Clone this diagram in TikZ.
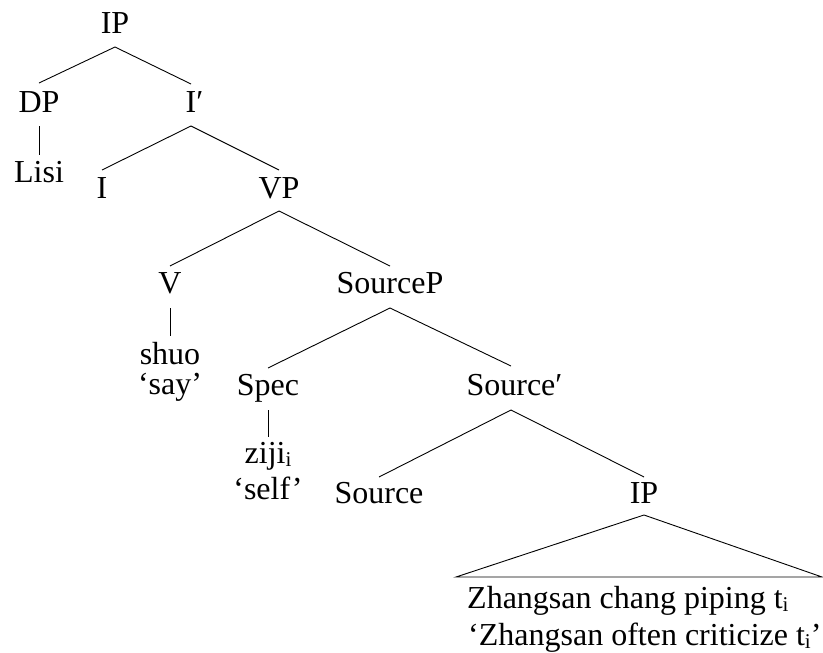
\documentclass[tikz,border=0pt]{standalone}
\usepackage{fontspec}
\setmainfont{Liberation Serif}
\newcommand{\lowi}{\raisebox{-0.12em}{\fontsize{21}{22}\selectfont i}}
\begin{document}
\begin{tikzpicture}[x=1pt,y=-1pt,
  lbl/.style={anchor=base,inner sep=0pt,font=\fontsize{32}{35}\selectfont},
  lblw/.style={anchor=base west,inner sep=0pt,font=\fontsize{32}{35}\selectfont},
  edge/.style={line width=0.9pt}]
\useasboundingbox (0,0) rectangle (823,653);
\node[lbl] (ip) at (115,33) {IP};
\node[lbl] (dp) at (39,112) {DP};
\node[lbl] (ibar) at (191,112) {I\rlap{′}};
\node[lbl] (lisi) at (39,182) {Lisi};
\node[lbl] (i) at (102,198) {I};
\node[lbl] (vp) at (279,198) {VP};
\node[lbl] (v) at (170,293) {V};
\node[lbl] (sp) at (390,293) {SourceP};
\node[lbl] (shuo) at (170,364) {shuo};
\node[lbl] (say) at (170,394) {‘say’};
\node[lbl] (spec) at (268,395) {Spec};
\node[lbl] (sbar) at (511,395) {Source\rlap{′}};
\node[lbl] (ziji) at (268,463) {ziji\lowi};
\node[lbl] (self) at (268,499) {‘self’};
\node[lbl] (src) at (379,503) {Source};
\node[lbl] (ip2) at (644,503) {IP};
\node[lblw] (zh1) at (467,608) {Zhangsan chang piping t\lowi};
\node[lblw] (zh2) at (468,645) {‘Zhangsan often criticize t\lowi’};
\coordinate (tl) at (456,577);
\coordinate (tr) at (822,577);
\draw[edge] ([yshift=-14pt]ip.base) -- ([yshift=29pt]dp.base);
\draw[edge] ([yshift=-14pt]ip.base) -- ([yshift=28pt]ibar.base);
\draw[edge] ([yshift=-14pt]dp.base) -- ([yshift=27pt]lisi.base);
\draw[edge] ([yshift=-14pt]ibar.base) -- ([yshift=28pt]i.base);
\draw[edge] ([yshift=-14pt]ibar.base) -- ([yshift=28pt]vp.base);
\draw[edge] ([yshift=-13pt]vp.base) -- ([yshift=27pt]v.base);
\draw[edge] ([yshift=-13pt]vp.base) -- ([yshift=27pt]sp.base);
\draw[edge] ([yshift=-15pt]v.base) -- ([yshift=28pt]shuo.base);
\draw[edge] ([yshift=-15pt]sp.base) -- ([yshift=27pt]spec.base);
\draw[edge] ([yshift=-15pt]sp.base) -- ([yshift=29pt]sbar.base);
\draw[edge] ([yshift=-15pt]spec.base) -- ([yshift=26pt]ziji.base);
\draw[edge] ([yshift=-15pt]sbar.base) -- ([yshift=26pt]src.base);
\draw[edge] ([yshift=-15pt]sbar.base) -- ([yshift=26pt]ip2.base);
\draw[edge] ([yshift=-12pt]ip2.base) -- (tr) -- (tl) -- cycle;
\end{tikzpicture}
\end{document}
